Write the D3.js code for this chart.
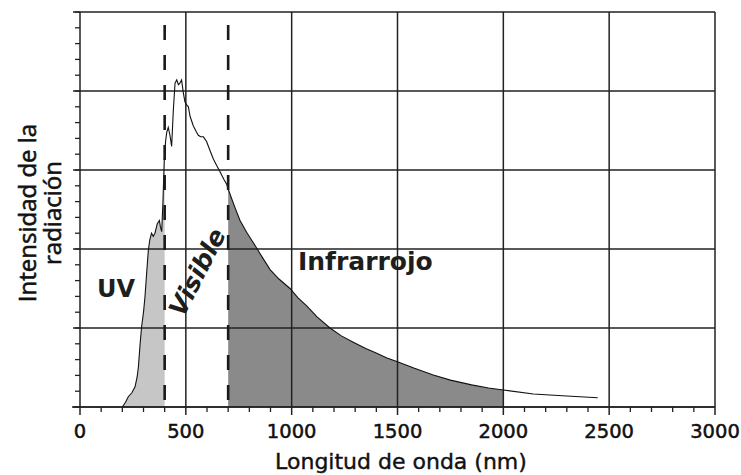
<!DOCTYPE html>
<html>
<head>
<meta charset="utf-8">
<script src="https://cdn.jsdelivr.net/npm/d3@7"></script>
<style>
  html, body { margin: 0; padding: 0; background: #fff; }
  svg { display: block; }
</style>
</head>
<body>
<svg id="chart" width="741" height="475"></svg>
<script>
// ---- data ----
const wavelengths = [200,215,228,245,260,270,276,284,291,300,307,315,323,330,338,346,354,365,375,380,386,392,398,400,405,410,417,425,433,441,449,457,465,472,480,488,496,505,512,520,535,550,559,570,583,598,615,630,645,661,680,693,700,730,756,790,819,860,898,940,992,1030,1071,1120,1181,1235,1291,1350,1402,1450,1500,1580,1669,1750,1850,1930,2000,2142,2299,2446];
const intensity = [0,0.03,0.065,0.09,0.128,0.19,0.255,0.4,0.508,0.6,0.698,0.85,0.994,1.06,1.10,1.08,1.10,1.16,1.18,1.14,1.11,1.3,1.56,1.6,1.69,1.74,1.77,1.72,1.65,1.88,2.05,2.07,2.04,2.05,2.07,1.99,1.93,1.91,1.90,1.84,1.78,1.74,1.72,1.71,1.71,1.68,1.62,1.57,1.53,1.49,1.44,1.41,1.38,1.27,1.18,1.10,1.04,0.95,0.87,0.81,0.75,0.69,0.64,0.57,0.50,0.45,0.41,0.37,0.34,0.31,0.287,0.245,0.203,0.17,0.14,0.12,0.108,0.082,0.07,0.059];
const xTicks = [0,500,1000,1500,2000,2500,3000];
const xMinorTicks = d3.range(0, 3001, 100);
const yGrid = [0,0.5,1,1.5,2,2.5];
const yMinorTicks = d3.range(0, 2.51, 0.1);
const bands = [
  {name: "UV", from: 200, to: 400},
  {name: "Infrarrojo", from: 700, to: 2000}
];
const dividers = [400, 700];

const data = wavelengths.map((w, i) => ({w, v: intensity[i]}));

// ---- layout ----
const svg = d3.select("#chart");
const x = d3.scaleLinear().domain([0, 3000]).range([80, 715]);
const y = d3.scaleLinear().domain([0, 2.5]).range([407, 12]);
const gridColor = "#222";

// fills
const area = d3.area().x(d => x(d.w)).y0(y(0)).y1(d => y(d.v));
svg.append("path")
  .datum(data.filter(d => d.w >= bands[0].from && d.w <= bands[0].to))
  .attr("d", area).attr("fill", "#c6c6c6");
svg.append("path")
  .datum(data.filter(d => d.w >= bands[1].from && d.w <= bands[1].to))
  .attr("d", area).attr("fill", "#8a8a8a");

// grid horizontal (extending left as major ticks)
svg.append("g").selectAll("line").data(yGrid).join("line")
  .attr("x1", 73).attr("x2", x(3000))
  .attr("y1", d => y(d)).attr("y2", d => y(d))
  .attr("stroke", gridColor).attr("stroke-width", 1.5);

// y minor ticks
svg.append("g").selectAll("line").data(yMinorTicks).join("line")
  .attr("x1", 75).attr("x2", 80)
  .attr("y1", d => y(d)).attr("y2", d => y(d))
  .attr("stroke", gridColor).attr("stroke-width", 1.3);

// grid vertical (extending below as major ticks)
svg.append("g").selectAll("line").data(xTicks).join("line")
  .attr("x1", d => x(d)).attr("x2", d => x(d))
  .attr("y1", y(2.5)).attr("y2", 415)
  .attr("stroke", gridColor).attr("stroke-width", 1.5);

// x minor ticks
svg.append("g").selectAll("line").data(xMinorTicks.filter(d => d % 500 !== 0)).join("line")
  .attr("x1", d => x(d)).attr("x2", d => x(d))
  .attr("y1", 407).attr("y2", 412)
  .attr("stroke", gridColor).attr("stroke-width", 1.3);

// x axis line extends a little left
svg.append("line").attr("x1", 72).attr("x2", x(3000))
  .attr("y1", y(0)).attr("y2", y(0))
  .attr("stroke", gridColor).attr("stroke-width", 1.5);

// spectrum curve
const line = d3.line().x(d => x(d.w)).y(d => y(d.v));
svg.append("path").datum(data).attr("d", line)
  .attr("fill", "none").attr("stroke", "#111").attr("stroke-width", 1.1);

// dashed dividers
svg.append("g").selectAll("line").data(dividers).join("line")
  .attr("x1", d => x(d)).attr("x2", d => x(d))
  .attr("y1", 25).attr("y2", y(0))
  .attr("stroke", "#1a1a1a").attr("stroke-width", 2.6)
  .attr("stroke-dasharray", "15,15");

// tick labels
svg.append("g").selectAll("text").data(xTicks).join("text")
  .attr("x", d => x(d)).attr("y", 438)
  .attr("text-anchor", "middle")
  .attr("font-family", "DejaVu Sans").attr("font-size", 19.5)
  .attr("fill", "#111").attr("stroke", "#111").attr("stroke-width", 0.5)
  .text(d => d);

// axis titles
svg.append("text").attr("x", 401).attr("y", 469)
  .attr("text-anchor", "middle")
  .attr("font-family", "DejaVu Sans").attr("font-size", 22)
  .attr("fill", "#111").attr("stroke", "#111").attr("stroke-width", 0.4)
  .text("Longitud de onda (nm)");

const yt = svg.append("text")
  .attr("transform", "translate(0,213) rotate(-90)")
  .attr("text-anchor", "middle")
  .attr("font-family", "Open Sans").attr("font-size", 24)
  .attr("fill", "#111").attr("stroke", "#111").attr("stroke-width", 0.6);
yt.append("tspan").attr("x", 0).attr("y", 36).text("Intensidad de la");
yt.append("tspan").attr("x", 0).attr("y", 61).text("radiación");

// band labels
svg.append("text").attr("x", 97).attr("y", 297)
  .attr("font-family", "DejaVu Sans").attr("font-weight", "bold").attr("font-size", 24)
  .attr("fill", "#1e1e1e").text("UV");
svg.append("text").attr("x", 298).attr("y", 270)
  .attr("font-family", "DejaVu Sans").attr("font-weight", "bold").attr("font-size", 25)
  .attr("fill", "#1e1e1e").text("Infrarrojo");
svg.append("text")
  .attr("transform", "translate(197,272) rotate(-63)")
  .attr("text-anchor", "middle").attr("dy", "0.36em")
  .attr("font-family", "DejaVu Sans").attr("font-weight", "bold").attr("font-style", "italic")
  .attr("font-size", 25)
  .attr("fill", "#1e1e1e").text("Visible");
</script>
</body>
</html>
